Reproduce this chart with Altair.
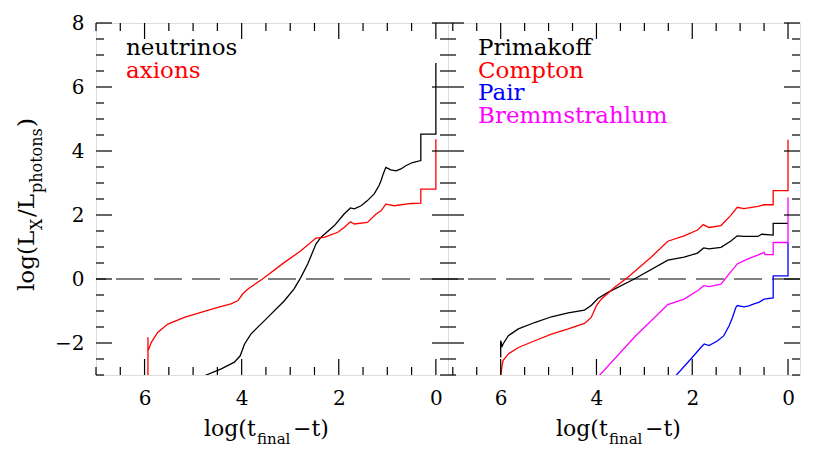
import altair as alt
import pandas as pd

# ---------------- data ----------------
# left panel: x = log(t_final - t), y = log(L_X / L_photons)
neutrinos = [(4.80, -3.05), (4.73, -3.0), (4.42, -2.81), (4.15, -2.6), (4.03, -2.40), (3.94, -2.03),
             (3.81, -1.72), (3.53, -1.30), (3.12, -0.68), (2.92, -0.31), (2.78, 0.05), (2.64, 0.47),
             (2.47, 1.09), (2.37, 1.30), (2.09, 1.67), (1.89, 2.03), (1.76, 2.22), (1.68, 2.19),
             (1.54, 2.29), (1.41, 2.45), (1.27, 2.66), (1.17, 2.92), (1.13, 3.07), (1.08, 3.30),
             (1.03, 3.49), (0.93, 3.41), (0.82, 3.38), (0.72, 3.44), (0.62, 3.54), (0.48, 3.64),
             (0.31, 3.70), (0.31, 4.53), (0.0, 4.53), (0.0, 6.75)]
axions = [(5.93, -3.05), (5.93, -1.82), (5.93, -2.25), (5.86, -1.98), (5.73, -1.67), (5.52, -1.41),
          (5.18, -1.20), (4.84, -1.04), (4.49, -0.89), (4.22, -0.78), (4.08, -0.68), (3.98, -0.47),
          (3.87, -0.31), (3.57, 0.0), (3.12, 0.52), (2.78, 0.88), (2.47, 1.28), (2.30, 1.30),
          (2.02, 1.46), (1.89, 1.61), (1.76, 1.79), (1.68, 1.72), (1.41, 1.77), (1.23, 2.03),
          (1.13, 2.13), (1.03, 2.34), (0.86, 2.29), (0.51, 2.36), (0.31, 2.37), (0.31, 2.81),
          (0.0, 2.81), (0.0, 4.37)]
# right panel
primakoff = [(6.0, -2.45), (6.0, -1.93), (5.97, -2.10), (5.95, -2.03), (5.84, -1.77), (5.63, -1.56),
             (5.29, -1.36), (4.94, -1.18), (4.59, -1.06), (4.25, -0.97), (4.11, -0.83), (3.97, -0.61),
             (3.76, -0.42), (3.21, 0.0), (2.51, 0.59), (2.17, 0.68), (1.89, 0.81), (1.76, 0.97),
             (1.65, 0.94), (1.40, 0.99), (1.20, 1.18), (1.06, 1.35), (0.92, 1.33), (0.63, 1.33),
             (0.55, 1.40), (0.31, 1.37), (0.31, 1.74), (0.0, 1.74)]
compton = [(6.0, -3.05), (5.97, -2.70), (5.95, -2.55), (5.84, -2.34), (5.63, -2.14), (5.29, -1.93),
           (4.94, -1.72), (4.59, -1.56), (4.25, -1.39), (4.11, -1.20), (4.00, -0.83), (3.90, -0.63),
           (3.62, -0.26), (3.35, 0.05), (2.86, 0.68), (2.51, 1.18), (2.17, 1.35), (1.89, 1.53),
           (1.77, 1.70), (1.65, 1.61), (1.40, 1.67), (1.20, 1.98), (1.06, 2.24), (0.92, 2.20),
           (0.63, 2.27), (0.50, 2.32), (0.31, 2.32), (0.31, 2.76), (0.0, 2.76), (0.0, 4.35)]
pair = [(2.36, -3.05), (2.03, -2.5), (1.82, -2.14), (1.75, -2.03), (1.65, -2.08), (1.47, -1.93),
        (1.34, -1.77), (1.23, -1.46), (1.16, -1.20), (1.09, -0.89), (1.06, -0.83), (0.92, -0.87),
        (0.82, -0.84), (0.71, -0.78), (0.60, -0.72), (0.50, -0.63), (0.31, -0.59), (0.31, 0.10),
        (0.0, 0.10), (0.0, 1.14)]
bremsstrahlung = [(3.96, -3.05), (3.21, -1.82), (2.51, -0.80), (2.17, -0.63), (1.89, -0.37),
                  (1.76, -0.21), (1.65, -0.24), (1.40, -0.16), (1.23, 0.16), (1.06, 0.47),
                  (0.85, 0.62), (0.61, 0.76), (0.50, 0.83), (0.48, 0.76), (0.31, 0.76),
                  (0.31, 1.14), (0.0, 1.14), (0.0, 2.55)]

left_labels = ["neutrinos", "axions"]
right_labels = ["Primakoff", "Compton", "Pair", "Bremmstrahlum"]
x_tick_labels = [0, 2, 4, 6]
y_tick_labels = [-2, 0, 2, 4, 6, 8]
x_minor = [0.5, 1, 1.5, 2.5, 3, 3.5, 4.5, 5, 5.5, 6.5, 7]
y_major = [-2, 0, 2, 4, 6, 8]
y_minor = [-3, -2.5, -1.5, -1, -0.5, 0.5, 1, 1.5, 2.5, 3, 3.5, 4.5, 5, 5.5, 6.5, 7, 7.5]

# ---------------- styling ----------------
W, H = 352, 352
FONT = "DejaVu Serif"
MAJ, MIN = 16, 8
TITLE_SIZE, SUB_SIZE = 22, 15


def text_layer(txt, x, y, size, color="black", angle=None):
    kw = dict(text=txt, font=FONT, fontSize=size, color=color, align="left",
              baseline="alphabetic")
    if angle is not None:
        kw["angle"] = angle
    return alt.Chart(pd.DataFrame({"a": [0]})).mark_text(**kw).encode(
        x=alt.value(x), y=alt.value(y))


def panel(series, labels, xdom, show_y):
    xs = alt.Scale(domain=xdom, reverse=True, nice=False, zero=False)
    ys = alt.Scale(domain=[-3, 8], nice=False, zero=False)
    xaxis = alt.Axis(values=x_tick_labels, ticks=False, domain=False, grid=False, title=None,
                     labelFont=FONT, labelFontSize=20, labelColor="black", labelPadding=13,
                     format="d")
    if show_y:
        yaxis = alt.Axis(values=y_tick_labels, ticks=False, domain=False, grid=False, title=None,
                         labelFont=FONT, labelFontSize=20, labelColor="black", labelPadding=12,
                         format="d")
    else:
        yaxis = None
    X = lambda: alt.X("x:Q", scale=xs, axis=xaxis)
    Y = lambda: alt.Y("y:Q", scale=ys, axis=yaxis)

    layers = []
    # dashed zero line
    layers.append(alt.Chart(pd.DataFrame({"y": [0]})).mark_rule(
        color="black", strokeWidth=1.2, strokeDash=[28, 10]).encode(y=Y()))
    # curves
    for pts, color in series:
        df = pd.DataFrame({"x": [p[0] for p in pts], "y": [p[1] for p in pts],
                           "i": list(range(len(pts)))})
        layers.append(alt.Chart(df).mark_line(color=color, strokeWidth=1.3, clip=True).encode(
            x=X(), y=Y(), order="i:Q"))
    # ticks on x (bottom + top)
    for vals, L in ((x_tick_labels, MAJ), (x_minor, MIN)):
        d = pd.DataFrame({"x": [v for v in vals if xdom[0] <= v <= xdom[1]]})
        layers.append(alt.Chart(d).mark_rule(color="black", strokeWidth=1.2).encode(
            x=X(), y=alt.value(H), y2=alt.value(H - L)))
        layers.append(alt.Chart(d).mark_rule(color="black", strokeWidth=1.2).encode(
            x=X(), y=alt.value(0), y2=alt.value(L)))
    # ticks on y (left + right)
    for vals, L in ((y_major, MAJ), (y_minor, MIN)):
        d = pd.DataFrame({"y": vals})
        layers.append(alt.Chart(d).mark_rule(color="black", strokeWidth=1.2).encode(
            y=Y(), x=alt.value(0), x2=alt.value(L)))
        layers.append(alt.Chart(d).mark_rule(color="black", strokeWidth=1.2).encode(
            y=Y(), x=alt.value(W), x2=alt.value(W - L)))
    # legend text
    for k, (lab, (_, color)) in enumerate(zip(labels, series)):
        layers.append(text_layer(lab, 30, 32 + 22.6 * k, 23, color))
    # x title: log(t_final - t)
    x0 = 108
    layers.append(text_layer("log(t", x0, 413, TITLE_SIZE))
    layers.append(text_layer("final", x0 + 53, 421, SUB_SIZE))
    layers.append(text_layer("\u2212t)", x0 + 89, 413, TITLE_SIZE))
    if show_y:
        # y title: log(L_X / L_photons), rotated
        bx, yy = -62, 268
        pieces = [("log(L", 23, 0, 61), ("X", 16, 8, 13),
                  ("/L", 23, 0, 24), ("photons", 16, 8, 66), (")", 23, 0, 9)]
        for txt, fs, off, w in pieces:
            layers.append(text_layer(txt, bx + off, yy, fs, angle=270))
            yy -= w
    return alt.layer(*layers).properties(width=W, height=H)


left = panel([(neutrinos, "black"), (axions, "#ff0000")], left_labels, [-0.25, 7.0], True)
right = panel([(primakoff, "black"), (compton, "#ff0000"), (pair, "#0000ff"),
               (bremsstrahlung, "#ff00ff")], right_labels, [-0.25, 7.1], False)

chart = alt.hconcat(left, right, spacing=0, bounds="flush").properties(
    padding={"left": 7, "top": 4, "right": 5, "bottom": 0}
).configure_view(stroke="black", strokeWidth=1.5).configure(background="white")

chart.save("out.html", embed_options={"renderer": "svg", "actions": False})
